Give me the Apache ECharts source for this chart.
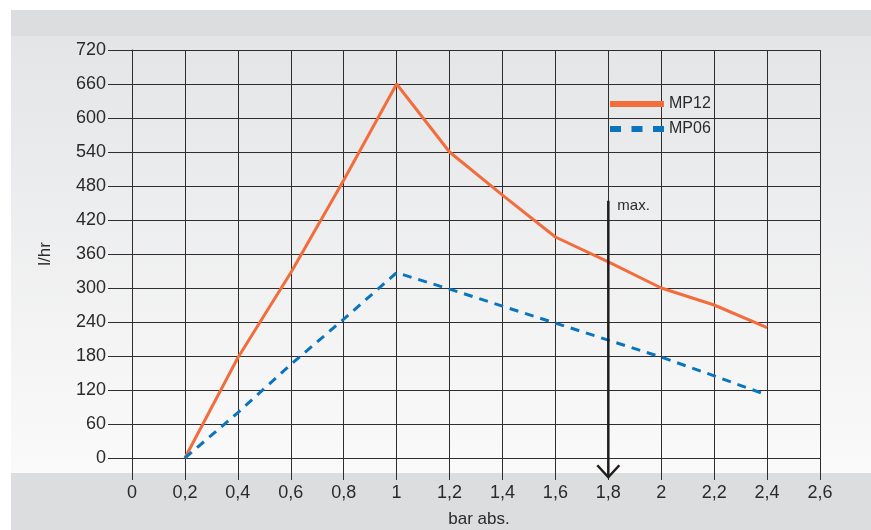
<!DOCTYPE html>
<html><head><meta charset="utf-8">
<script src="https://cdn.jsdelivr.net/npm/echarts@6/dist/echarts.min.js"></script>
<style>html,body{margin:0;padding:0;background:#fff}#c{width:871px;height:530px}</style>
</head><body><div id="c"></div>
<script>
const xValues = [0.2, 0.4, 0.6, 0.8, 1.0, 1.2, 1.4, 1.6, 1.8, 2.0, 2.2, 2.4];
const mp12 = [0, 177, 327, 490, 660, 540, 464, 390, 346, 300, 270, 230];
const mp06 = [0, 80, 165, 245, 327, 298, 268, 238, 208, 178, 145, 111];
const seriesNames = ['MP12', 'MP06'];
const maxArrow = [1.8, 454, -34];
const maxLabel = 'max.';
const xName = 'bar abs.';
const yName = 'l/hr';

const chart = echarts.init(document.getElementById('c'), null, {renderer: 'canvas'});
const pair = (vals) => xValues.map((x, i) => [x, vals[i]]);
const fmtX = v => { let s = (Math.round(v * 10) / 10).toFixed(1); if (s.endsWith('.0')) s = s.slice(0, -2); return s.replace('.', ','); };
const font = 'Liberation Sans, Arial, Helvetica, sans-serif';
const grid = '#2e2e2e';

chart.setOption({
  animation: false,
  textStyle: {fontFamily: font},
  graphic: [
    {type: 'rect', z: -100, silent: true, shape: {x: 11, y: 10, width: 860, height: 520}, style: {fill: '#dcdddf'}},
    {type: 'rect', z: -99, silent: true, shape: {x: 11, y: 36, width: 860, height: 437},
      style: {fill: new echarts.graphic.LinearGradient(0, 0, 0, 1, [{offset: 0, color: '#e4e5e7'}, {offset: 1, color: '#fafafa'}])}}
  ],
  grid: {left: 132, right: 51, top: 50, bottom: 72, outerBoundsMode: 'none', containLabel: false},
  legend: {
    orient: 'vertical', left: 610, top: 96, padding: 0, itemWidth: 54, itemHeight: 6, itemGap: 9,
    textStyle: {fontSize: 16, color: '#2a2a2a', fontFamily: font},
    data: [
      {name: 'MP12', icon: 'rect'},
      {name: 'MP06', icon: 'path://M0,0h11v6h-11z M21.5,0h11v6h-11z M43,0h11v6h-11z'}
    ]
  },
  xAxis: {
    type: 'value', min: 0, max: 2.6, interval: 0.2,
    name: xName, nameLocation: 'middle', nameGap: 53,
    nameTextStyle: {fontSize: 17, color: '#2a2a2a', padding: [0, 0, 0, 6]},
    axisLine: {show: true, lineStyle: {color: grid, width: 1}},
    axisTick: {show: true, length: 22, lineStyle: {color: grid, width: 1}},
    axisLabel: {fontSize: 18, color: '#2a2a2a', margin: 26, formatter: fmtX},
    splitLine: {show: true, lineStyle: {color: grid, width: 1}}
  },
  yAxis: {
    type: 'value', min: 0, max: 720, interval: 60,
    name: yName, nameLocation: 'middle', nameGap: 78, nameRotate: 90,
    nameTextStyle: {fontSize: 17, color: '#2a2a2a'},
    axisLine: {show: true, lineStyle: {color: grid, width: 1}},
    axisTick: {show: true, length: 24, lineStyle: {color: grid, width: 1}},
    axisLabel: {fontSize: 18, color: '#2a2a2a', margin: 26},
    splitLine: {show: true, lineStyle: {color: grid, width: 1}}
  },
  series: [
    {name: seriesNames[0], type: 'line', data: pair(mp12), symbol: 'none', z: 3,
      lineStyle: {color: '#f26c3c', width: 3}, itemStyle: {color: '#f26c3c'}},
    {name: seriesNames[1], type: 'line', data: pair(mp06), symbol: 'none', z: 3,
      lineStyle: {color: '#0a74bd', width: 3, type: [9, 7]}, itemStyle: {color: '#0a74bd'}},
    {name: 'arrow', type: 'custom', clip: false, z: 4, silent: true,
      data: [maxArrow],
      renderItem: (params, api) => {
        const top = api.coord([api.value(0), api.value(1)]);
        const tip = api.coord([api.value(0), api.value(2)]);
        return {type: 'group', children: [
          {type: 'line', shape: {x1: top[0], y1: top[1], x2: tip[0], y2: tip[1]}, style: {stroke: '#1e1e1e', lineWidth: 2.5}},
          {type: 'polyline', shape: {points: [[tip[0] - 11, tip[1] - 12], [tip[0], tip[1]], [tip[0] + 11, tip[1] - 12]]}, style: {stroke: '#1e1e1e', lineWidth: 2.5, fill: null}},
          {type: 'text', style: {text: maxLabel, x: top[0] + 9, y: top[1] + 5, fontSize: 15, fontFamily: font, fill: '#2a2a2a', verticalAlign: 'middle'}}
        ]};
      }}
  ]
});
</script></body></html>
